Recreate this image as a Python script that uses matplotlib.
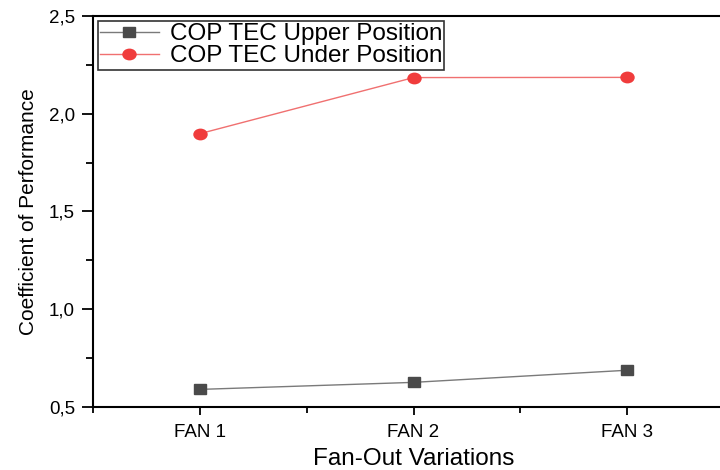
import matplotlib
matplotlib.use('Agg')
from matplotlib import pyplot as plt
from matplotlib.markers import MarkerStyle
from matplotlib.transforms import Affine2D
from matplotlib.ticker import MultipleLocator, FuncFormatter

# values
fans = ['FAN 1', 'FAN 2', 'FAN 3']
cop_upper = [0.59, 0.626, 0.688]
cop_under = [1.898, 2.185, 2.186]

plt.rcParams['font.family'] = ['Liberation Sans', 'DejaVu Sans']

fig = plt.figure(figsize=(7.2, 4.7), dpi=100)
ax = fig.add_axes([93 / 720, 63 / 470, 641 / 720, 391 / 470])

# the original picture is a bit wider than tall, so markers are slightly oval
wide = Affine2D().scale(1.25, 1.0)
sq = MarkerStyle('s', transform=wide)
dot = MarkerStyle('o', transform=wide)

x = list(range(1, len(fans) + 1))
ax.plot(x, cop_upper, color='#7a7a7a', lw=1, marker=sq, ms=7,
        mfc='#4a4a4a', mec='#4a4a4a', label='COP TEC Upper Position')
ax.plot(x, cop_under, color='#f07070', lw=1, marker=dot, ms=7.5,
        mfc='#f03c3c', mec='#f03c3c', label='COP TEC Under Position')

ax.set_xlim(0.5, 3.5)
ax.set_ylim(0.5, 2.5)
ax.set_xticks(x)
ax.set_xticklabels(fans)
ax.xaxis.set_minor_locator(MultipleLocator(0.5))
ax.yaxis.set_major_locator(MultipleLocator(0.5))
ax.yaxis.set_minor_locator(MultipleLocator(0.25))
ax.yaxis.set_major_formatter(FuncFormatter(lambda v, p: f'{v:.1f}'.replace('.', ',')))

ax.tick_params(which='both', direction='out', width=1.3, labelsize=13.5)
ax.tick_params(axis='x', which='major', length=6, pad=6)
ax.tick_params(axis='x', which='minor', length=4)
ax.tick_params(axis='y', which='major', length=8, pad=5)
ax.tick_params(axis='y', which='minor', length=5)
for s in ax.spines.values():
    s.set_linewidth(1.5)

ax.set_xlabel('Fan-Out Variations', fontsize=17.5, labelpad=5)
ax.set_ylabel('Coefficient of Performance', fontsize=15, labelpad=8)

leg = ax.legend(loc='upper left', fontsize=17.5, frameon=True, fancybox=False,
                edgecolor='black', handlelength=2.4, borderpad=0.1,
                labelspacing=0.0, borderaxespad=0.2, handletextpad=0.45)
leg.get_frame().set_linewidth(1.2)

fig.savefig('out.png', dpi=100)
